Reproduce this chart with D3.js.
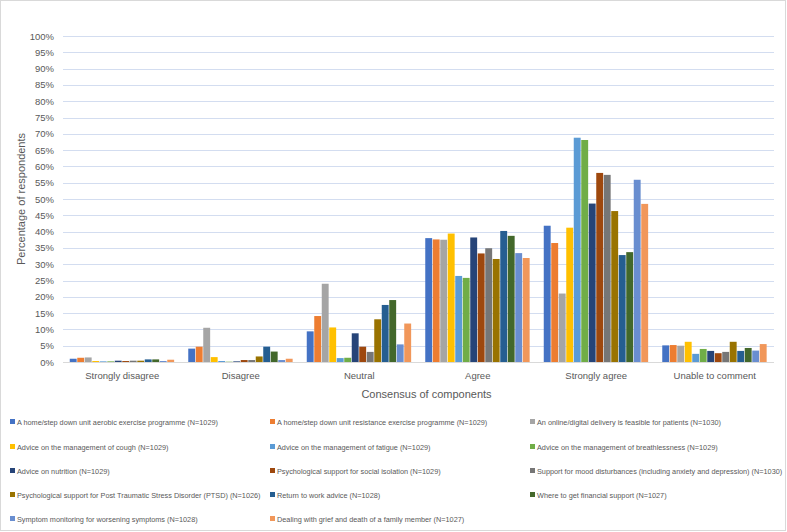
<!DOCTYPE html>
<html><head><meta charset="utf-8">
<script src="https://cdn.jsdelivr.net/npm/d3@7"></script>
<style>body{margin:0;background:#fff}svg{display:block;font-family:"Liberation Sans",Arial,sans-serif}</style>
</head><body><svg id="c" width="787" height="532"></svg>
<script>
const categories = ["Strongly disagree","Disagree","Neutral","Agree","Strongly agree","Unable to comment"];
const seriesNames = [
 "A home/step down unit aerobic exercise programme (N=1029)",
 "A home/step down unit resistance exercise programme (N=1029)",
 "An online/digital delivery is feasible for patients (N=1030)",
 "Advice on the management of cough (N=1029)",
 "Advice on the management of fatigue (N=1029)",
 "Advice on the management of breathlessness (N=1029)",
 "Advice on nutrition (N=1029)",
 "Psychological support for social isolation (N=1029)",
 "Support for mood disturbances (including anxiety and depression) (N=1030)",
 "Psychological support for Post Traumatic Stress Disorder (PTSD) (N=1026)",
 "Return to work advice (N=1028)",
 "Where to get financial support (N=1027)",
 "Symptom monitoring for worsening symptoms (N=1028)",
 "Dealing with grief and death of a family member (N=1027)"
];
const colors = ["#4472C4","#ED7D31","#A5A5A5","#FFC000","#5B9BD5","#70AD47","#264478","#9E480E","#767676","#997300","#255E91","#43682B","#698ED0","#F1975A"];
// values per series, in category order
const aerobic        = [1.0, 4.1, 9.4, 38.0, 41.8, 5.1];
const resistance     = [1.3, 4.7, 14.1, 37.6, 36.5, 5.2];
const online         = [1.4, 10.5, 24.0, 37.5, 21.0, 5.0];
const cough          = [0.3, 1.5, 10.6, 39.4, 41.2, 6.2];
const fatigue        = [0.2, 0.3, 1.2, 26.4, 68.8, 2.5];
const breathlessness = [0.2, 0.1, 1.3, 25.8, 68.1, 4.0];
const nutrition      = [0.4, 0.2, 8.8, 38.2, 48.6, 3.4];
const isolation      = [0.3, 0.6, 4.7, 33.3, 58.0, 2.7];
const mood           = [0.4, 0.6, 3.1, 34.9, 57.4, 3.1];
const ptsd           = [0.4, 1.7, 13.1, 31.6, 46.3, 6.2];
const work           = [0.8, 4.7, 17.5, 40.2, 32.8, 3.4];
const financial      = [0.8, 3.2, 19.0, 38.7, 33.7, 4.3];
const monitoring     = [0.3, 0.6, 5.4, 33.4, 55.9, 3.5];
const grief          = [0.7, 1.0, 11.8, 31.9, 48.5, 5.5];
const values = [aerobic,resistance,online,cough,fatigue,breathlessness,nutrition,isolation,mood,ptsd,work,financial,monitoring,grief];
const yTicks = d3.range(0, 101, 5);

const svg = d3.select("#c");
svg.append("rect").attr("x",0.5).attr("y",0.5).attr("width",785).attr("height",530)
  .attr("fill","#fff").attr("stroke","#d9d9d9");

const pL = 63, pR = 774, pT = 36, pB = 362;
const y = d3.scaleLinear().domain([0,100]).range([pB, pT]);
const x0 = d3.scaleBand().domain(categories).range([pL, pR]).padding(0);
const bw = x0.bandwidth();
const x1 = d3.scaleBand().domain(d3.range(seriesNames.length)).range([bw*0.057, bw*0.943]).padding(0);

// gridlines
svg.append("g").selectAll("line").data(yTicks.slice(1)).join("line")
  .attr("x1",pL).attr("x2",pR).attr("y1",d=>Math.round(y(d))+0.5).attr("y2",d=>Math.round(y(d))+0.5)
  .attr("stroke","#d3ddf0").attr("stroke-width",1);

// y axis labels
const yAxis = d3.axisLeft(y).tickValues(yTicks).tickFormat(d=>d+"%").tickSize(0).tickPadding(9);
const gy = svg.append("g").attr("transform",`translate(${pL},0)`).call(yAxis);
gy.select(".domain").remove();
gy.selectAll("text").attr("font-size",9.5).attr("fill","#595959").attr("font-family","Liberation Sans, Arial, sans-serif");

// bars
const groups = svg.append("g").selectAll("g").data(categories).join("g")
  .attr("transform",d=>`translate(${x0(d)},0)`);
groups.selectAll("rect").data((c,ci)=>values.map((s,si)=>({si, v:s[ci]}))).join("rect")
  .attr("x",d=>x1(d.si)).attr("width",x1.bandwidth()-0.6)
  .attr("y",d=>y(d.v)).attr("height",d=>pB-y(d.v))
  .attr("fill",d=>colors[d.si]);

// x axis
const xAxis = d3.axisBottom(x0).tickSize(0).tickPadding(10);
const gx = svg.append("g").attr("transform",`translate(0,${pB})`).call(xAxis);
gx.select(".domain").attr("stroke","#d9d9d9").attr("d",`M${pL},0.5H${pR}`);
gx.selectAll("text").attr("font-size",9.5).attr("fill","#595959").attr("font-family","Liberation Sans, Arial, sans-serif");

// axis titles
svg.append("text").attr("x",(pL+pR)/2+8).attr("y",398).attr("text-anchor","middle")
  .attr("font-size",11).attr("fill","#595959").text("Consensus of components");
svg.append("text").attr("transform",`translate(25,${(pT+pB)/2}) rotate(-90)`).attr("text-anchor","middle")
  .attr("font-size",11).attr("fill","#595959").text("Percentage of respondents");

// legend
const colX = [10, 270, 530];
const rowY = [422, 447, 471, 495, 519];
const leg = svg.append("g").selectAll("g").data(seriesNames).join("g")
  .attr("transform",(d,i)=>`translate(${colX[i%3]},${rowY[Math.floor(i/3)]})`);
leg.append("rect").attr("x",0).attr("y",-3).attr("width",5).attr("height",5).attr("fill",(d,i)=>colors[i]);
leg.append("text").attr("x",7).attr("y",2.5).attr("font-size",7.3).attr("fill","#595959").text(d=>d);
</script></body></html>
